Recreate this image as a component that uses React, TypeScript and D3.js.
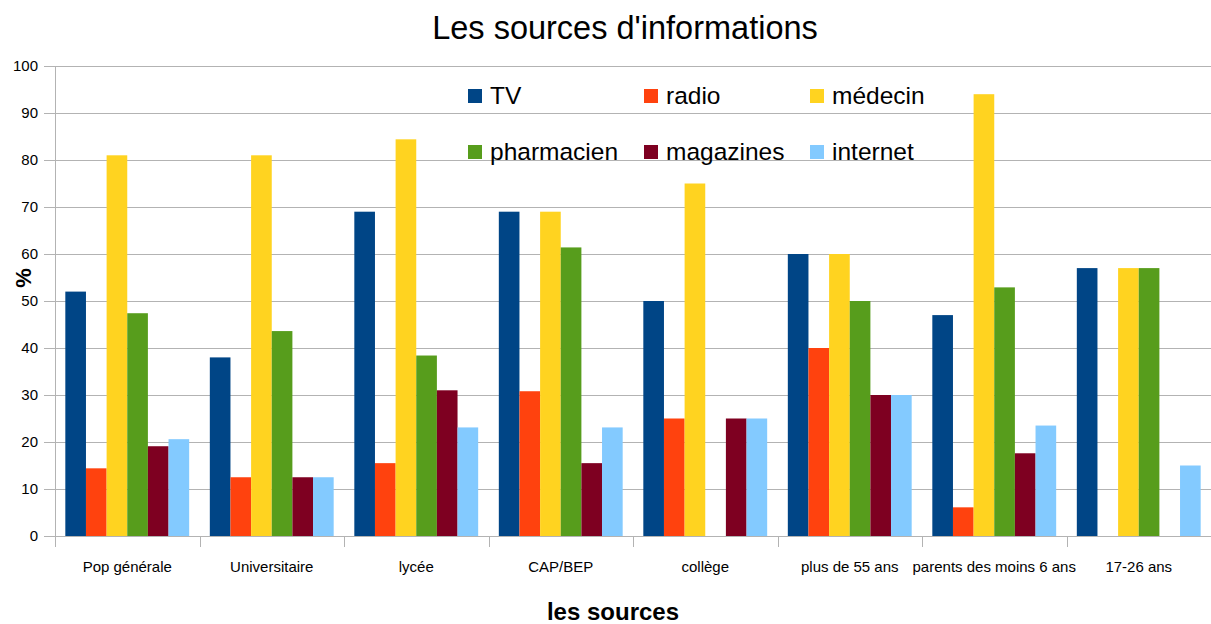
import React, { useEffect, useRef } from 'react';
import * as d3 from 'd3';

const categories = [
	'Pop générale',
	'Universitaire',
	'lycée',
	'CAP/BEP',
	'collège',
	'plus de 55 ans',
	'parents des moins 6 ans',
	'17-26 ans',
];

const seriesNames = ['TV', 'radio', 'médecin', 'pharmacien', 'magazines', 'internet'];
const seriesColors = ['#004586', '#ff420e', '#ffd320', '#579d1c', '#7e0021', '#83caff'];

// null = no bar in the original
const tv = [52, 38, 69, 69, 50, 60, 47, 57];
const radio = [14.4, 12.5, 15.5, 30.8, 25, 40, 6.1, null];
const medecin = [81, 81, 84.4, 69, 75, 60, 94, 57];
const pharmacien = [47.4, 43.6, 38.4, 61.4, null, 50, 52.9, 57];
const magazines = [19.1, 12.5, 31, 15.5, 25, 30, 17.6, null];
const internet = [20.6, 12.5, 23.1, 23.1, 25, 30, 23.5, 15];

const yTicks = [0, 10, 20, 30, 40, 50, 60, 70, 80, 90, 100];

const W = 1211;
const H = 624;
const font = '"Liberation Sans", Arial, sans-serif';

const App: React.FC = () => {
	const ref = useRef<SVGSVGElement>(null);

	useEffect(() => {
		if (!ref.current) return;
		const svg = d3.select(ref.current);
		svg.selectAll('*').remove();

		const margin = { top: 66, right: 0, bottom: 88, left: 55 };
		const values = [tv, radio, medecin, pharmacien, magazines, internet];

		// --- Scales ---
		const x0 = d3
			.scaleBand()
			.domain(categories)
			.range([margin.left, W - margin.right])
			.padding(0);
		const x1 = d3
			.scaleBand()
			.domain(seriesNames)
			.range([0, x0.bandwidth()])
			.paddingInner(0)
			.paddingOuter(0.5);
		const y = d3.scaleLinear().domain([0, 100]).range([H - margin.bottom, margin.top]);

		// --- Grid + y ticks ---
		const grid = svg.append('g');
		grid
			.selectAll('line')
			.data(yTicks)
			.enter()
			.append('line')
			.attr('x1', margin.left - 11)
			.attr('x2', W - margin.right)
			.attr('y1', (d) => Math.round(y(d)) + 0.5)
			.attr('y2', (d) => Math.round(y(d)) + 0.5)
			.attr('stroke', '#b3b3b3')
			.attr('stroke-width', 1);
		grid
			.selectAll('text')
			.data(yTicks)
			.enter()
			.append('text')
			.attr('x', 38)
			.attr('y', (d) => y(d))
			.attr('dy', '0.36em')
			.attr('text-anchor', 'end')
			.style('font-family', font)
			.style('font-size', '15px')
			.attr('fill', '#000')
			.text((d) => d);

		// left axis line
		svg
			.append('line')
			.attr('x1', margin.left + 0.5)
			.attr('x2', margin.left + 0.5)
			.attr('y1', y(100))
			.attr('y2', y(0) + 11)
			.attr('stroke', '#b3b3b3');

		// x category ticks
		const xTickPos = categories.map((c) => x0(c) ?? 0).concat([W - margin.right]);
		svg
			.append('g')
			.selectAll('line')
			.data(xTickPos.slice(1))
			.enter()
			.append('line')
			.attr('x1', (d) => Math.round(d) + 0.5)
			.attr('x2', (d) => Math.round(d) + 0.5)
			.attr('y1', y(0))
			.attr('y2', y(0) + 11)
			.attr('stroke', '#b3b3b3');

		// x labels
		svg
			.append('g')
			.selectAll('text')
			.data(categories)
			.enter()
			.append('text')
			.attr('x', (d) => (x0(d) ?? 0) + x0.bandwidth() / 2)
			.attr('y', 572)
			.attr('text-anchor', 'middle')
			.style('font-family', font)
			.style('font-size', '15px')
			.attr('fill', '#000')
			.text((d) => d);

		// --- Bars ---
		const cells = categories.flatMap((cat, i) =>
			seriesNames.map((s, j) => ({ cat, s, color: seriesColors[j], v: values[j][i] })),
		);
		svg
			.append('g')
			.selectAll('rect')
			.data(cells.filter((d) => d.v !== null))
			.enter()
			.append('rect')
			.attr('x', (d) => (x0(d.cat) ?? 0) + (x1(d.s) ?? 0))
			.attr('y', (d) => y(d.v as number))
			.attr('width', x1.bandwidth())
			.attr('height', (d) => y(0) - y(d.v as number))
			.attr('fill', (d) => d.color);

		// --- Legend ---
		const legendCols = [468, 644, 810];
		const legendRows = [89, 145];
		const legend = svg
			.append('g')
			.selectAll('g')
			.data(seriesNames)
			.enter()
			.append('g')
			.attr(
				'transform',
				(d, i) => `translate(${legendCols[i % 3]},${legendRows[Math.floor(i / 3)]})`,
			);
		legend
			.append('rect')
			.attr('width', 14)
			.attr('height', 14)
			.attr('fill', (d, i) => seriesColors[i]);
		legend
			.append('text')
			.attr('x', 22)
			.attr('y', 15)
			.style('font-family', font)
			.style('font-size', '24.5px')
			.attr('fill', '#000')
			.text((d) => d);

		// --- Titles ---
		svg
			.append('text')
			.attr('x', 625)
			.attr('y', 39)
			.attr('text-anchor', 'middle')
			.style('font-family', font)
			.style('font-size', '32.5px')
			.attr('fill', '#000')
			.text("Les sources d'informations");

		svg
			.append('text')
			.attr('x', 613)
			.attr('y', 620)
			.attr('text-anchor', 'middle')
			.style('font-family', font)
			.style('font-size', '24px')
			.style('font-weight', 'bold')
			.attr('fill', '#000')
			.text('les sources');

		svg
			.append('text')
			.attr('transform', 'translate(31,278) rotate(-90)')
			.attr('text-anchor', 'middle')
			.style('font-family', font)
			.style('font-size', '22px')
			.style('font-weight', 'bold')
			.attr('fill', '#000')
			.text('%');
	}, []);

	return (
		<svg
			ref={ref}
			width={W}
			height={H}
			style={{ position: 'absolute', left: 0, top: 0, background: '#fff' }}
		/>
	);
};

export default App;
